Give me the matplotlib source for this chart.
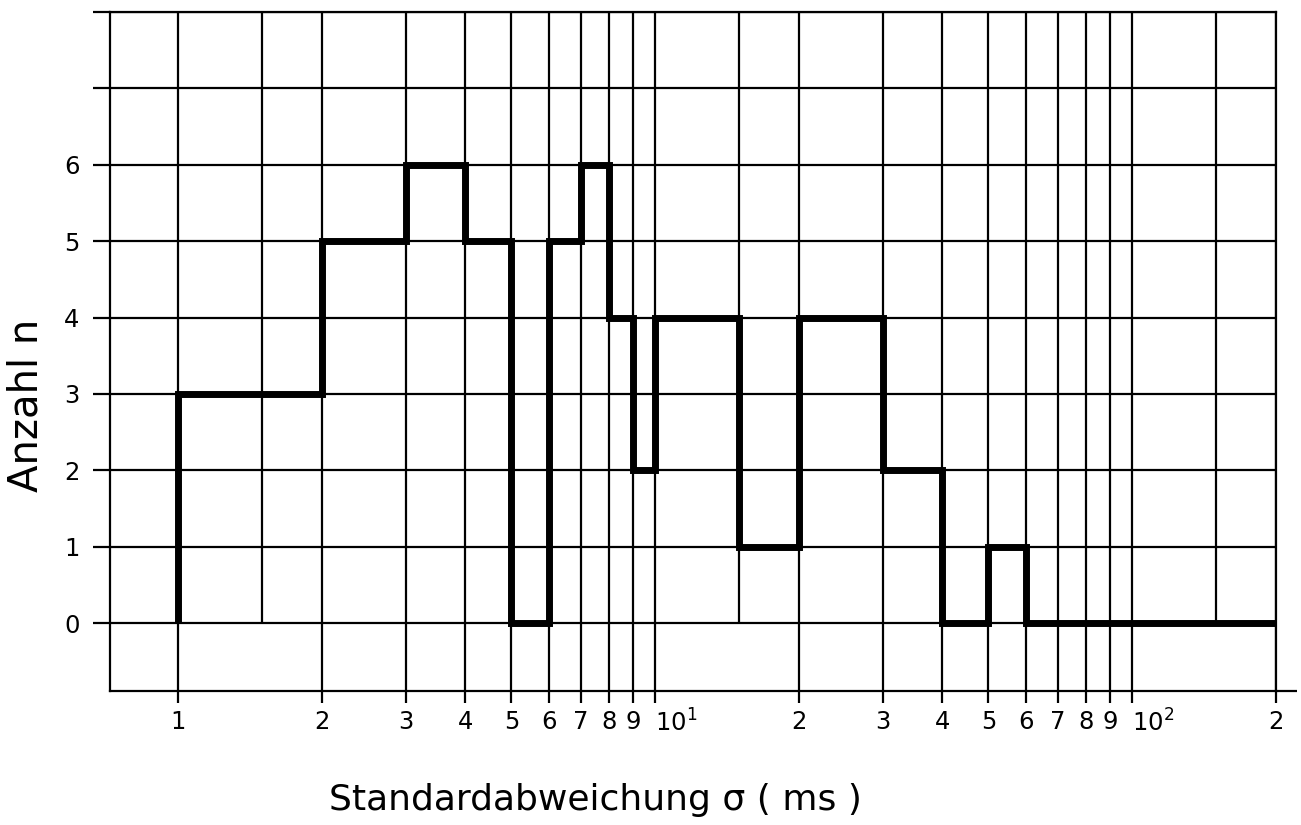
import matplotlib
matplotlib.use("Agg")
import matplotlib.pyplot as plt

# --- Data: class edges (ms) and number of cases per class ---
edges = [1, 2, 3, 4, 5, 6, 7, 8, 9, 10, 15, 20, 30, 40, 50, 60, 200]
counts = [3, 5, 6, 5, 0, 5, 6, 4, 2, 4, 1, 4, 2, 0, 1, 0]

x_ticks = [1, 2, 3, 4, 5, 6, 7, 8, 9, 10, 20, 30, 40, 50, 60, 70, 80, 90, 100, 200]
x_labels = ["1", "2", "3", "4", "5", "6", "7", "8", "9", "$10^{1}$",
            "2", "3", "4", "5", "6", "7", "8", "9", "$10^{2}$", "2"]
half_lines = [1.5, 15, 150]
y_ticks = [0, 1, 2, 3, 4, 5, 6, 7, 8]
y_labels = ["0", "1", "2", "3", "4", "5", "6", "", ""]

plt.rcParams['font.family'] = ['DejaVu Sans']
plt.rcParams['mathtext.default'] = 'regular'

W, H = 1301, 825
fig = plt.figure(figsize=(W / 100, H / 100), dpi=100)
# axes box in pixels: left 110, right 1275.6, top 12, bottom 691
left, right, top, bottom = 110, 1275.6, 12, 691
ax = fig.add_axes([left / W, 1 - bottom / H, (right - left) / W, (bottom - top) / H])

ax.set_xscale('log')
ax.set_xlim(0.72, 200)
ax.set_ylim(-0.89, 8)

lw_thin = 1.6
for s in ax.spines.values():
    s.set_linewidth(lw_thin)
    s.set_color('black')

# grid: horizontal lines over full width, vertical lines at the major ticks
ax.set_yticks(y_ticks)
ax.set_yticklabels(y_labels, fontsize=17.5)
ax.set_xticks(x_ticks)
ax.set_xticklabels(x_labels, fontsize=17.5)
ax.minorticks_off()
ax.grid(True, which='major', color='black', linewidth=lw_thin)
ax.set_axisbelow(True)

ax.tick_params(axis='y', direction='out', length=12, width=lw_thin, pad=10)
ax.tick_params(axis='x', direction='out', length=8.5, width=lw_thin, pad=5)

# the decade labels sit to the right of their tick
for lab in ax.get_xticklabels():
    if lab.get_text().startswith("$10"):
        lab.set_horizontalalignment('left')

# intermediate lines only reach down to n = 0
ax.vlines(half_lines, 0, 8, color='black', linewidth=lw_thin)

# bottom axis line runs a little past the last grid line
ax.plot([1, 1.0185], [0, 0], transform=ax.transAxes, color='black',
        linewidth=lw_thin, clip_on=False, solid_capstyle='butt')

# histogram outline
ax.stairs(counts, edges, baseline=0, color='black', linewidth=5,
          joinstyle='miter', zorder=5)

fig.text(595 / W, 1 - 800 / H, "Standardabweichung σ ( ms )",
         fontsize=26, ha='center', va='center')
fig.text(26 / W, 1 - 405 / H, "Anzahl n", fontsize=29, rotation=90,
         ha='center', va='center')

fig.savefig("out.png", dpi=100)
